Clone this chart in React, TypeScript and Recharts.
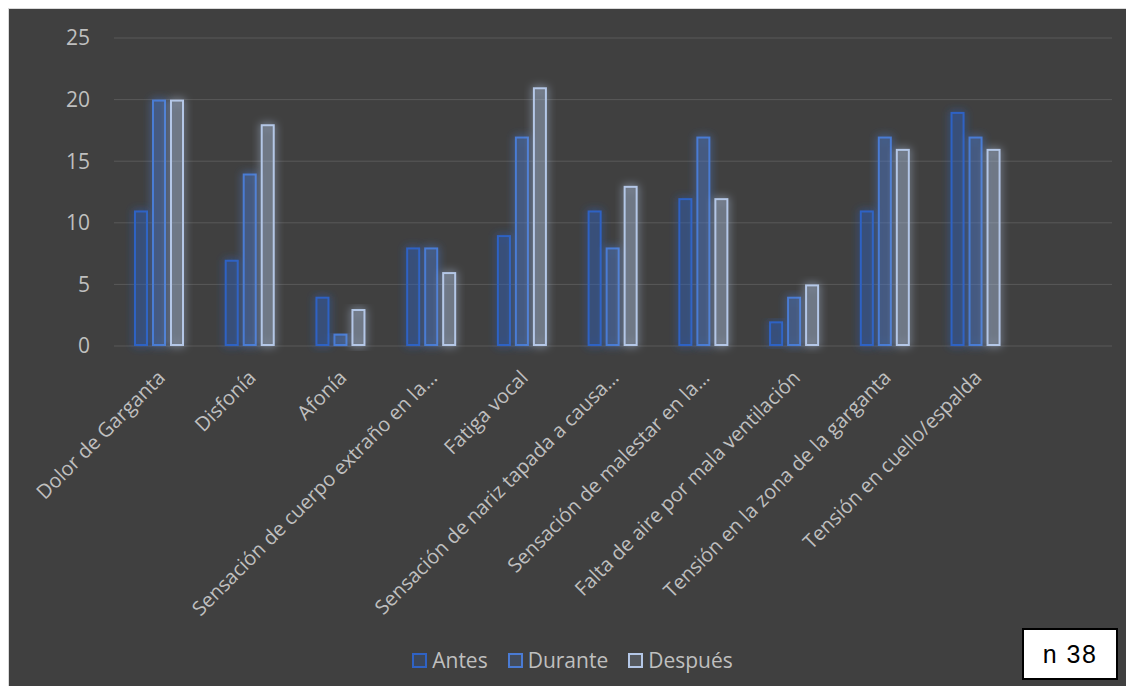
import { BarChart, Bar, XAxis, YAxis, CartesianGrid, Legend } from 'recharts';

// categories (the last one is an empty slot, as in the original sheet)
const categories = [
  'Dolor de Garganta',
  'Disfonía',
  'Afonía',
  'Sensación de cuerpo extraño en la…',
  'Fatiga vocal',
  'Sensación de nariz tapada a causa…',
  'Sensación de malestar en la…',
  'Falta de aire por mala ventilación',
  'Tensión en la zona de la garganta',
  'Tensión en cuello/espalda',
  '',
];

const antes = [11, 7, 4, 8, 9, 11, 12, 2, 11, 19, null];
const durante = [20, 14, 1, 8, 17, 8, 17, 4, 17, 17, null];
const despues = [20, 18, 3, 6, 21, 13, 12, 5, 16, 16, null];

const yTicks = [0, 5, 10, 15, 20, 25];

const series = [
  { key: 'Antes', stroke: '#2f62c4', fill: 'rgba(47,98,196,0.2)' },
  { key: 'Durante', stroke: '#4a7bd4', fill: 'rgba(74,123,212,0.2)' },
  { key: 'Después', stroke: '#b4c7e7', fill: 'rgba(180,199,231,0.18)' },
];

const data = categories.map((name, i) => ({
  name,
  Antes: antes[i],
  Durante: durante[i],
  Después: despues[i],
}));

const FONT = "'Open Sans', 'Noto Sans', sans-serif";
const TEXT = '#bfbfbf';

function GlowBar(props: any) {
  const { x, y, width, height, fill, stroke } = props;
  if (!height || height <= 0) return null;
  return (
    <rect
      x={x + 1}
      y={y + 1}
      width={Math.max(width - 2, 0)}
      height={Math.max(height - 2, 0)}
      fill={fill}
      stroke={stroke}
      strokeWidth={2}
      filter="url(#barGlow)"
    />
  );
}

function CategoryTick({ x, y, payload }: any) {
  if (!payload.value) return null;
  return (
    <g transform={`translate(${x + 7},${y + 33})`}>
      <text
        x={0}
        y={0}
        textAnchor="end"
        transform="rotate(-45)"
        fill={TEXT}
        fontSize={20}
        fontFamily={FONT}
      >
        {payload.value}
      </text>
    </g>
  );
}

function LegendContent() {
  return (
    <div
      style={{
        height: 30,
        display: 'flex',
        justifyContent: 'center',
        alignItems: 'center',
        paddingLeft: 44,
        fontFamily: FONT,
        fontSize: 21,
        color: TEXT,
      }}
    >
      {series.map((s) => (
        <div key={s.key} style={{ display: 'flex', alignItems: 'center', marginRight: 20 }}>
          <span
            style={{
              display: 'inline-block',
              width: 11,
              height: 11,
              border: `2px solid ${s.stroke}`,
              background: s.fill,
              marginRight: 5,
            }}
          />
          {s.key}
        </div>
      ))}
    </div>
  );
}

export default function App() {
  return (
    <div
      style={{
        position: 'relative',
        width: 1124,
        height: 680,
        background: '#404040',
        border: '1px solid #d9d9d9',
      }}
    >
      <BarChart
        width={1124}
        height={680}
        data={data}
        barGap={4}
        margin={{ top: 29, right: 21, bottom: 14, left: 0 }}
      >
        <defs>
          <filter id="barGlow" x="-80%" y="-15%" width="260%" height="130%">
            <feGaussianBlur in="SourceGraphic" stdDeviation="4" result="blur" />
            <feMerge>
              <feMergeNode in="blur" />
              <feMergeNode in="SourceGraphic" />
            </feMerge>
          </filter>
        </defs>
        <CartesianGrid vertical={false} stroke="#595959" />
        <XAxis
          dataKey="name"
          interval={0}
          axisLine={false}
          tickLine={false}
          tickSize={0}
          tickMargin={0}
          height={299}
          tick={<CategoryTick />}
        />
        <YAxis
          domain={[0, 25]}
          ticks={yTicks}
          width={105}
          axisLine={false}
          tickLine={false}
          tickSize={0}
          tickMargin={24}
          tick={{ fill: TEXT, fontSize: 21, fontFamily: FONT }}
        />
        <Legend verticalAlign="bottom" content={<LegendContent />} />
        {series.map((s) => (
          <Bar
            key={s.key}
            dataKey={s.key}
            barSize={14}
            fill={s.fill}
            stroke={s.stroke}
            shape={<GlowBar />}
            isAnimationActive={false}
          />
        ))}
      </BarChart>
      <div
        style={{
          position: 'absolute',
          left: 1013,
          top: 619,
          width: 92,
          height: 48,
          background: '#ffffff',
          border: '2px solid #000000',
          display: 'flex',
          alignItems: 'center',
          justifyContent: 'center',
          fontFamily: "'Liberation Sans', Arial, sans-serif",
          fontSize: 25,
          letterSpacing: 1.5,
          color: '#000000',
        }}
      >
        n 38
      </div>
    </div>
  );
}
